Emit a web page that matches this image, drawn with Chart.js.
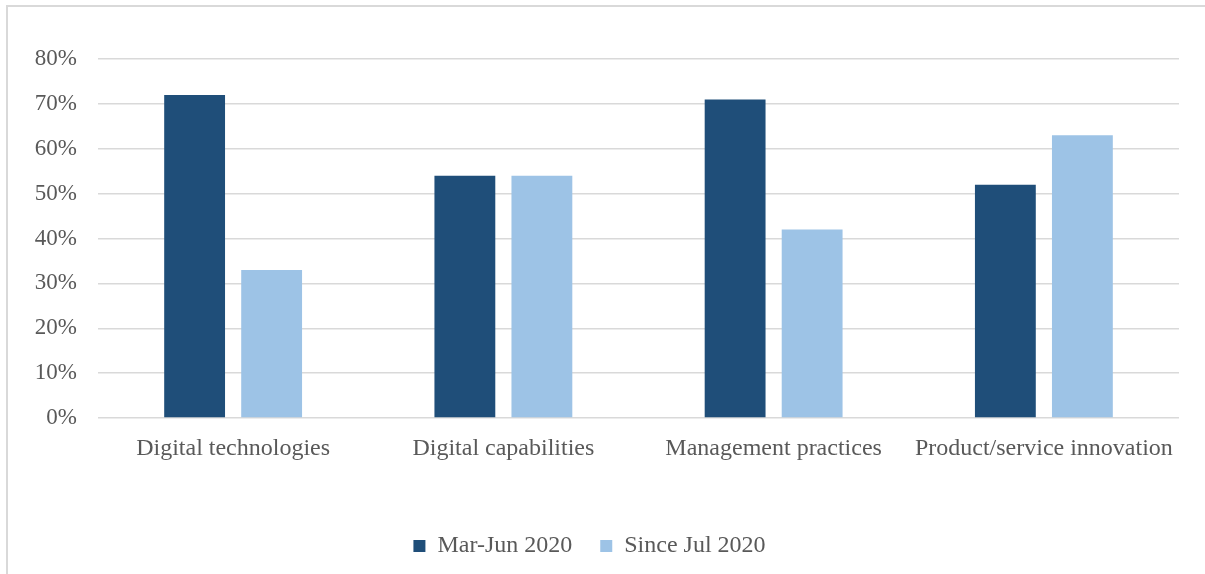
<!DOCTYPE html>
<html>
<head>
<meta charset="utf-8">
<title>Innovation focus by period</title>
<script src="https://cdn.jsdelivr.net/npm/chart.js@4.4.1/dist/chart.umd.min.js"></script>
<style>
  html, body { margin: 0; padding: 0; background: #fff; overflow: hidden; }
  #wrap { position: relative; width: 1205px; height: 574px; }
  /* frame around the chart, only top and left edges fall inside the view */
  #frame {
    position: absolute; left: 6px; top: 5px; width: 1300px; height: 700px;
    border-left: 2px solid #d9d9d9; border-top: 2px solid #d9d9d9;
    pointer-events: none;
  }
  canvas { position: absolute; left: 0; top: 0; }
</style>
</head>
<body>
<div id="wrap">
  <div id="frame"></div>
  <canvas id="chart" width="1205" height="574"></canvas>
</div>
<script>
// categories and series
const categories = ['Digital technologies', 'Digital capabilities', 'Management practices', 'Product/service innovation'];
const marJun2020 = [72, 54, 71, 52];
const sinceJul2020 = [33, 54, 42, 63];
const seriesNames = ['Mar-Jun 2020', 'Since Jul 2020'];
const yTicks = [0, 10, 20, 30, 40, 50, 60, 70, 80];

const textGray = '#595959';
const gridGray = '#d9d9d9';
const serif = "'Liberation Serif', 'Times New Roman', serif";

const ctx = document.getElementById('chart').getContext('2d');

new Chart(ctx, {
  type: 'bar',
  data: {
    labels: categories,
    datasets: [
      { label: seriesNames[0], data: marJun2020, backgroundColor: '#1f4e79' },
      { label: seriesNames[1], data: sinceJul2020, backgroundColor: '#9dc3e6' }
    ]
  },
  options: {
    responsive: false,
    animation: false,
    categoryPercentage: 0.57,
    barPercentage: 0.79,
    layout: { padding: { top: 59, left: 0, right: 26, bottom: 6 } },
    plugins: {
      tooltip: { enabled: false },
      legend: {
        position: 'bottom',
        labels: {
          boxWidth: 12, boxHeight: 12, padding: 28,
          color: textGray,
          font: { family: serif, size: 24 }
        }
      }
    },
    scales: {
      x: {
        grid: { display: false },
        border: { display: false },
        ticks: { color: textGray, font: { family: serif, size: 24 }, padding: 8, maxRotation: 0 },
        afterFit: (s) => { s.height = 88; }
      },
      y: {
        min: 0, max: 80,
        afterBuildTicks: (s) => { s.ticks = yTicks.map(v => ({ value: v })); },
        grid: { color: gridGray, lineWidth: 1.5, drawTicks: false },
        border: { display: false },
        ticks: {
          color: textGray,
          font: { family: serif, size: 23 },
          padding: 21,
          callback: (v) => v + '%'
        },
        afterFit: (s) => { s.width = 98; }
      }
    }
  }
});
</script>
</body>
</html>
